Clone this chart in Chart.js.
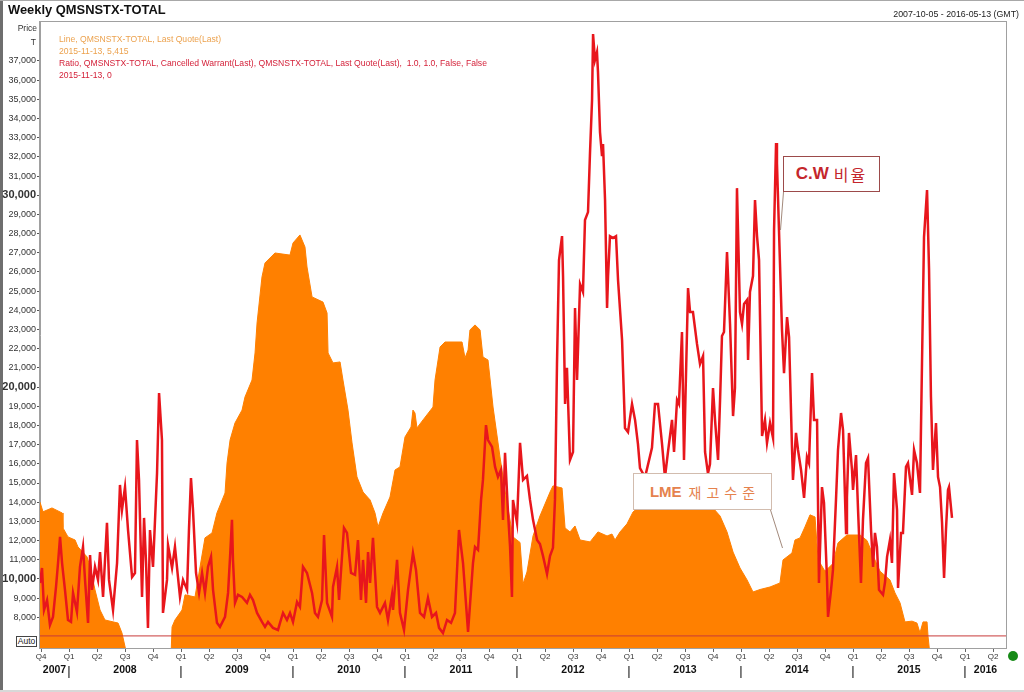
<!DOCTYPE html>
<html><head><meta charset="utf-8">
<script src="https://cdn.jsdelivr.net/npm/chart.js@4.4.1/dist/chart.umd.min.js"></script>
<style>
html,body{margin:0;padding:0;background:#fff;}
#wrap{position:relative;width:1024px;height:692px;overflow:hidden;font-family:"Liberation Sans",Arial,sans-serif;}
#c{position:absolute;left:0;top:0;}
.t{position:absolute;white-space:pre;line-height:1;}
</style></head><body>
<div id="wrap">
<canvas id="c" width="1024" height="692"></canvas>
<div class="t" style="left:8px;top:4px;font-weight:bold;font-size:12.9px;color:#111">Weekly QMSNSTX-TOTAL</div>
<div class="t" style="right:5px;top:10px;font-size:8.8px;color:#222">2007-10-05 - 2016-05-13 (GMT)</div>
<div class="t" style="right:987px;top:24px;font-size:8.5px;color:#333">Price</div>
<div class="t" style="right:988px;top:38px;font-size:8.5px;color:#333">T</div>
<div class="t" style="left:59px;top:35px;font-size:8.6px;color:#eca24e">Line, QMSNSTX-TOTAL, Last Quote(Last)</div>
<div class="t" style="left:59px;top:47px;font-size:8.6px;color:#eca24e">2015-11-13, 5,415</div>
<div class="t" style="left:59px;top:59px;font-size:8.6px;color:#d4223a">Ratio, QMSNSTX-TOTAL, Cancelled Warrant(Last), QMSNSTX-TOTAL, Last Quote(Last),  1.0, 1.0, False, False</div>
<div class="t" style="left:59px;top:71px;font-size:8.6px;color:#d4223a">2015-11-13, 0</div>
<div class="t" style="left:16px;top:636px;width:21px;height:11px;box-sizing:border-box;border:1px solid #444;background:#fff;font-size:8.5px;color:#222;text-align:center;line-height:9px">Auto</div>
<div style="position:absolute;left:783px;top:156px;width:97px;height:36px;box-sizing:border-box;border:1px solid #9c4a4a;background:#fff;display:flex;align-items:center;justify-content:center;color:#c4262c;white-space:nowrap"><span style="font-weight:bold;font-size:17px;font-family:'Liberation Sans',Arial,sans-serif">C.W</span><span style="font-size:16px;font-family:'Noto Sans CJK KR',sans-serif;margin-left:5px;letter-spacing:2px">비율</span></div>
<div style="position:absolute;left:633px;top:473px;width:139px;height:37px;box-sizing:border-box;border:1px solid #d2bcae;background:#fff;display:flex;align-items:center;justify-content:center;color:#e5824d;white-space:nowrap"><span style="font-weight:bold;font-size:15px;font-family:'Liberation Sans',Arial,sans-serif">LME</span><span style="font-size:14px;font-family:'Noto Sans CJK KR',sans-serif;margin-left:7px;letter-spacing:5px;margin-right:-5px">재고수준</span></div>
<div style="position:absolute;left:1008px;top:651px;width:10px;height:10px;border-radius:50%;background:#168a16"></div>
</div>
<script>
// ---- axis ranges & tick labels ----
const X_MIN = 2007.741, X_MAX = 2016.366;
const Y_MIN = 6400, Y_MAX = 39030;
const priceTicks = [8000,9000,10000,11000,12000,13000,14000,15000,16000,17000,18000,19000,20000,21000,22000,23000,24000,25000,26000,27000,28000,29000,30000,31000,32000,33000,34000,35000,36000,37000];
const quarterLabels = ['Q1','Q2','Q3','Q4'];
const yearLabels = ['2007','2008','2009','2010','2011','2012','2013','2014','2015','2016'];
const RATIO_ZERO = 7030;

// ---- LME stock (orange area) ----
const lmeDates = [
 2007.741,2007.768,2007.848,2007.938,2007.946,2007.991,2008.054,2008.080,2008.161,2008.188,
 2008.232,2008.277,2008.321,2008.438,2008.473,2008.518,2008.911,2008.920,2008.946,2009.009,
 2009.036,2009.125,2009.170,2009.214,2009.277,2009.321,2009.393,2009.411,2009.438,2009.482,
 2009.545,2009.571,2009.634,2009.661,2009.679,2009.723,2009.750,2009.839,2009.973,2010.000,
 2010.062,2010.107,2010.125,2010.170,2010.268,2010.304,2010.313,2010.357,2010.420,2010.446,
 2010.491,2010.527,2010.571,2010.625,2010.688,2010.732,2010.759,2010.804,2010.866,2010.911,
 2010.955,2011.000,2011.054,2011.071,2011.089,2011.107,2011.161,2011.250,2011.268,2011.313,
 2011.357,2011.509,2011.536,2011.563,2011.580,2011.625,2011.670,2011.696,2011.741,2011.786,
 2011.848,2011.902,2011.964,2012.027,2012.054,2012.089,2012.143,2012.205,2012.295,2012.321,
 2012.402,2012.429,2012.473,2012.518,2012.563,2012.652,2012.723,2012.804,2012.848,2012.875,
 2012.920,2012.982,2013.036,2013.098,2013.634,2013.750,2013.813,2013.875,2013.929,2013.991,
 2014.054,2014.107,2014.170,2014.259,2014.348,2014.375,2014.455,2014.482,2014.527,2014.571,
 2014.616,2014.661,2014.688,2014.750,2014.821,2014.866,2014.946,2015.063,2015.125,2015.196,
 2015.241,2015.330,2015.375,2015.420,2015.464,2015.527,2015.571,2015.598,2015.625,2015.661,
 2015.670,2015.688];
const lmeStock = [
 14000,13500,13700,13440,12660,12190,12030,11670,11150,10630,
 9430,8380,7860,7700,7180,6000,6000,7500,7860,8380,
 9170,9060,10630,12140,12400,13440,14480,16040,17240,18130,
 18800,19480,20370,21780,23340,25740,26470,26990,26880,27510,
 27930,27300,26260,24700,24430,23860,21780,21260,21310,20370,
 18800,17090,15320,14530,14120,13440,12710,13440,14270,15680,
 15840,17400,17920,18800,18650,17870,18290,18960,20370,22090,
 22350,22350,21520,21930,22980,23240,22980,21570,21410,18960,
 16360,14270,12190,11900,9740,10360,12240,13280,14530,14850,
 14740,12660,12450,12760,12030,11930,12450,12240,12340,12030,
 12450,12870,13490,13800,13900,13700,13280,12450,11400,10570,
 9950,9320,9450,9580,9790,10990,11350,12030,12140,12710,
 13340,13230,11000,10400,10800,11880,12290,12290,12000,10990,
 10400,9950,9270,8750,7760,7800,7700,7190,7760,7760,
 7000,6000];

// ---- Cancelled-warrant ratio (red line, in axis units) ----
const cwDates = [
 2007.741,2007.759,2007.777,2007.804,2007.830,2007.857,2007.884,2007.902,2007.920,2007.938,
 2007.964,2007.991,2008.018,2008.036,2008.071,2008.098,2008.125,2008.143,2008.170,2008.188,
 2008.205,2008.232,2008.259,2008.277,2008.304,2008.339,2008.357,2008.393,2008.429,2008.455,
 2008.473,2008.500,2008.527,2008.563,2008.589,2008.607,2008.625,2008.652,2008.670,2008.688,
 2008.705,2008.723,2008.750,2008.786,2008.804,2008.830,2008.839,2008.875,2008.884,2008.920,
 2008.946,2008.973,2008.991,2009.018,2009.054,2009.071,2009.089,2009.107,2009.134,2009.161,
 2009.188,2009.214,2009.241,2009.268,2009.286,2009.321,2009.348,2009.393,2009.420,2009.438,
 2009.455,2009.464,2009.482,2009.509,2009.545,2009.589,2009.616,2009.643,2009.679,2009.723,
 2009.750,2009.777,2009.821,2009.866,2009.884,2009.911,2009.946,2009.973,2010.000,2010.036,
 2010.062,2010.089,2010.125,2010.170,2010.196,2010.223,2010.259,2010.277,2010.304,2010.348,
 2010.357,2010.393,2010.411,2010.455,2010.482,2010.518,2010.554,2010.580,2010.607,2010.625,
 2010.652,2010.670,2010.688,2010.714,2010.750,2010.777,2010.821,2010.848,2010.884,2010.893,
 2010.929,2010.955,2010.991,2011.027,2011.071,2011.098,2011.134,2011.170,2011.205,2011.241,
 2011.277,2011.304,2011.339,2011.375,2011.411,2011.446,2011.482,2011.518,2011.563,2011.607,
 2011.625,2011.652,2011.679,2011.696,2011.723,2011.741,2011.777,2011.804,2011.830,2011.857,
 2011.875,2011.893,2011.920,2011.938,2011.955,2011.964,2012.000,2012.027,2012.054,2012.089,
 2012.116,2012.143,2012.179,2012.205,2012.232,2012.268,2012.295,2012.321,2012.339,2012.357,
 2012.375,2012.402,2012.411,2012.429,2012.446,2012.473,2012.500,2012.518,2012.536,2012.563,
 2012.589,2012.607,2012.634,2012.652,2012.670,2012.679,2012.696,2012.714,2012.723,2012.741,
 2012.759,2012.768,2012.786,2012.804,2012.813,2012.830,2012.857,2012.884,2012.902,2012.938,
 2012.964,2012.991,2013.027,2013.054,2013.080,2013.098,2013.143,2013.205,2013.232,2013.259,
 2013.295,2013.321,2013.348,2013.384,2013.402,2013.429,2013.446,2013.473,2013.491,2013.527,
 2013.545,2013.571,2013.607,2013.634,2013.661,2013.679,2013.705,2013.723,2013.750,2013.768,
 2013.795,2013.813,2013.830,2013.848,2013.875,2013.902,2013.929,2013.946,2013.964,2013.991,
 2014.009,2014.027,2014.054,2014.063,2014.080,2014.107,2014.125,2014.143,2014.161,2014.188,
 2014.214,2014.232,2014.259,2014.286,2014.295,2014.313,2014.321,2014.339,2014.366,2014.384,
 2014.411,2014.429,2014.455,2014.464,2014.491,2014.509,2014.536,2014.563,2014.589,2014.607,
 2014.634,2014.652,2014.679,2014.696,2014.723,2014.741,2014.768,2014.777,2014.804,2014.821,
 2014.848,2014.866,2014.893,2014.911,2014.938,2014.946,2014.964,2014.991,2015.000,2015.027,
 2015.045,2015.071,2015.089,2015.116,2015.134,2015.161,2015.179,2015.196,2015.214,2015.232,
 2015.268,2015.286,2015.304,2015.330,2015.348,2015.366,2015.393,2015.402,2015.429,2015.446,
 2015.473,2015.491,2015.527,2015.545,2015.571,2015.598,2015.616,2015.634,2015.661,2015.679,
 2015.696,2015.714,2015.741,2015.759,2015.777,2015.795,2015.813,2015.830,2015.848,2015.857,
 2015.884];
const cwRatio = [
 9790,10570,8380,8900,7600,8020,9580,10830,12190,10830,
 9430,7860,7760,9270,8280,10630,11670,9950,7710,11250,
 9430,10630,9950,11400,9060,12920,9950,8380,10830,14900,
 13600,14790,12550,10100,10310,17240,15160,9060,13180,10830,
 7450,12550,10630,15520,19690,17240,8230,9950,11770,10570,
 11670,10100,9060,9950,9430,12550,15260,13600,10310,9270,
 10310,9270,10630,11150,9430,7710,7500,8020,9270,11150,
 13080,10990,8750,9170,9060,8750,9170,8900,8230,7760,
 7500,7760,7450,7340,7710,8230,7860,8230,7760,8800,
 8540,10630,10310,9270,8230,8020,8900,12290,8750,8020,
 9580,10630,8900,12660,12400,10310,10210,12030,8900,10990,
 8750,11400,9790,12140,8540,8230,8750,7860,9170,8380,
 10990,8230,7340,9430,11350,10470,8230,8020,9010,8020,
 8230,7450,7180,7860,7710,8230,12550,10830,7240,10830,
 11670,11510,14120,15160,18020,17240,16880,15840,15320,15680,
 13080,16570,13440,11670,9060,14120,12920,17090,15160,15370,
 14120,13080,12030,11820,11200,10260,11200,11620,14120,21200,
 26620,27870,25790,19120,21000,16200,16620,24120,20370,25370,
 24960,28710,29120,32250,34960,38400,37050,37460,36420,33290,
 32040,32670,29750,24120,25790,27870,27770,27870,25580,22450,
 17870,17660,19120,18290,17030,15780,15300,16830,19120,19120,
 17030,15300,16620,18290,16620,19330,19120,22870,16200,25160,
 23910,23910,22250,21200,21620,16620,15500,15990,19950,18290,
 16200,19330,22660,22870,27040,23290,18490,19950,30370,23910,
 23290,24330,24540,21410,24960,25790,29750,27870,26620,17450,
 18290,17090,18130,17350,28190,32720,31680,28190,22980,20730,
 23650,22610,16880,15160,17610,16720,15680,14220,16360,16040,
 20730,18290,18290,9790,14790,13960,9950,8020,9430,10470,
 14120,16720,18650,17760,12400,14270,17610,15680,14640,16460,
 13600,9790,13080,16040,16300,12550,10630,12400,11670,9430,
 9170,9840,11150,12030,10830,15520,13600,9530,12400,12400,
 15840,16040,14380,16720,16040,14480,21260,27820,30270,26100,
 19480,15680,18130,15320,14790,12920,10050,12550,14640,14790,
 13180];

const FONT = '"Liberation Sans", Arial, sans-serif';

const framePlugin = {
  id: 'frame',
  beforeDraw(chart) {
    const c = chart.ctx;
    c.save();
    c.fillStyle = '#fff';
    c.fillRect(0, 0, chart.width, chart.height);
    c.fillStyle = '#6e6e6e';
    c.fillRect(0, 0, 3, chart.height);
    c.fillStyle = '#a8a8a8';
    c.fillRect(0, 0, chart.width, 1);
    c.fillStyle = '#d8d8d8';
    c.fillRect(0, chart.height - 2, chart.width, 2);
    c.restore();
  },
  afterDatasetsDraw(chart) {
    const a = chart.chartArea, c = chart.ctx;
    c.save();
    c.strokeStyle = '#a0a0a0';
    c.lineWidth = 1;
    c.strokeRect(a.left - 0.5, a.top - 0.5, a.right - a.left + 1, a.bottom - a.top + 1);
    // annotation pointers
    c.strokeStyle = '#a38a7c';
    c.beginPath();
    c.moveTo(783.5, 192); c.lineTo(780.5, 230);
    c.moveTo(770.5, 510); c.lineTo(782.5, 548);
    c.stroke();
    c.restore();
  }
};

new Chart(document.getElementById('c'), {
  type: 'line',
  data: {
    datasets: [
      {
        label: 'C.W ratio',
        data: cwDates.map((d, i) => ({x: d, y: cwRatio[i]})),
        borderColor: '#e8161c',
        borderWidth: 2.5,
        pointRadius: 0,
        tension: 0,
        fill: false,
        order: 1
      },
      {
        label: 'Ratio 0',
        data: [{x: X_MIN, y: RATIO_ZERO}, {x: X_MAX, y: RATIO_ZERO}],
        borderColor: '#c83a3a',
        borderWidth: 1,
        pointRadius: 0,
        fill: false,
        order: 2
      },
      {
        label: 'LME stock',
        data: lmeDates.map((d, i) => ({x: d, y: lmeStock[i]})),
        borderColor: '#ff8000',
        backgroundColor: '#ff8000',
        borderWidth: 1,
        pointRadius: 0,
        tension: 0,
        fill: 'start',
        order: 3
      }
    ]
  },
  options: {
    responsive: false,
    devicePixelRatio: 1,
    animation: false,
    layout: {padding: {left: 0, right: 18, top: 22, bottom: 0}},
    plugins: {legend: {display: false}, tooltip: {enabled: false}},
    scales: {
      y: {
        type: 'linear', position: 'left', min: Y_MIN, max: Y_MAX,
        afterFit(s) { s.width = 40; },
        afterBuildTicks(s) { s.ticks = priceTicks.map(v => ({value: v})); },
        grid: {drawOnChartArea: false, tickLength: 3, color: '#555'},
        border: {display: true, color: '#a0a0a0'},
        ticks: {
          padding: 1, color: '#333', autoSkip: false,
          callback: v => v.toLocaleString('en-US'),
          font: ctx => (ctx.tick && ctx.tick.value % 10000 === 0)
            ? {family: FONT, size: 11, weight: 'bold'}
            : {family: FONT, size: 9}
        }
      },
      x: {
        type: 'linear', position: 'bottom', min: X_MIN, max: X_MAX,
        afterFit(s) { s.height = 16; },
        afterBuildTicks(s) {
          const t = [];
          for (let y = 2007; y <= 2016; y++) {
            for (let q = 0; q < 4; q++) {
              const v = y + q * 0.25;
              if (v >= X_MIN && v <= X_MAX) t.push({value: v, q: quarterLabels[q]});
            }
          }
          s.ticks = t;
        },
        grid: {drawOnChartArea: false, tickLength: 4, color: '#666'},
        border: {display: true, color: '#a0a0a0'},
        ticks: {
          padding: 0, color: '#333', autoSkip: false, maxRotation: 0, minRotation: 0,
          font: {family: FONT, size: 8},
          callback: (v, i, ticks) => ticks[i].q
        }
      },
      x2: {
        type: 'linear', position: 'bottom', min: X_MIN, max: X_MAX,
        afterFit(s) { s.height = 28; },
        afterBuildTicks(s) {
          const t = [];
          yearLabels.forEach(lbl => {
            const y = +lbl;
            const a = Math.max(y, X_MIN), b = Math.min(y + 1, X_MAX);
            if (y > X_MIN) t.push({value: y, txt: '|'});
            t.push({value: (a + b) / 2, txt: lbl});
          });
          t.sort((p, q) => p.value - q.value);
          s.ticks = t;
        },
        grid: {display: false, drawTicks: false},
        border: {display: false},
        ticks: {
          padding: 0, color: '#111', autoSkip: false, maxRotation: 0, minRotation: 0,
          callback: (v, i, ticks) => ticks[i].txt,
          font: ctx => (ctx.tick && ctx.tick.txt === '|')
            ? {family: FONT, size: 13, weight: 'normal'}
            : {family: FONT, size: 10.5, weight: 'bold'}
        }
      }
    }
  },
  plugins: [framePlugin]
});
</script>
</body></html>
